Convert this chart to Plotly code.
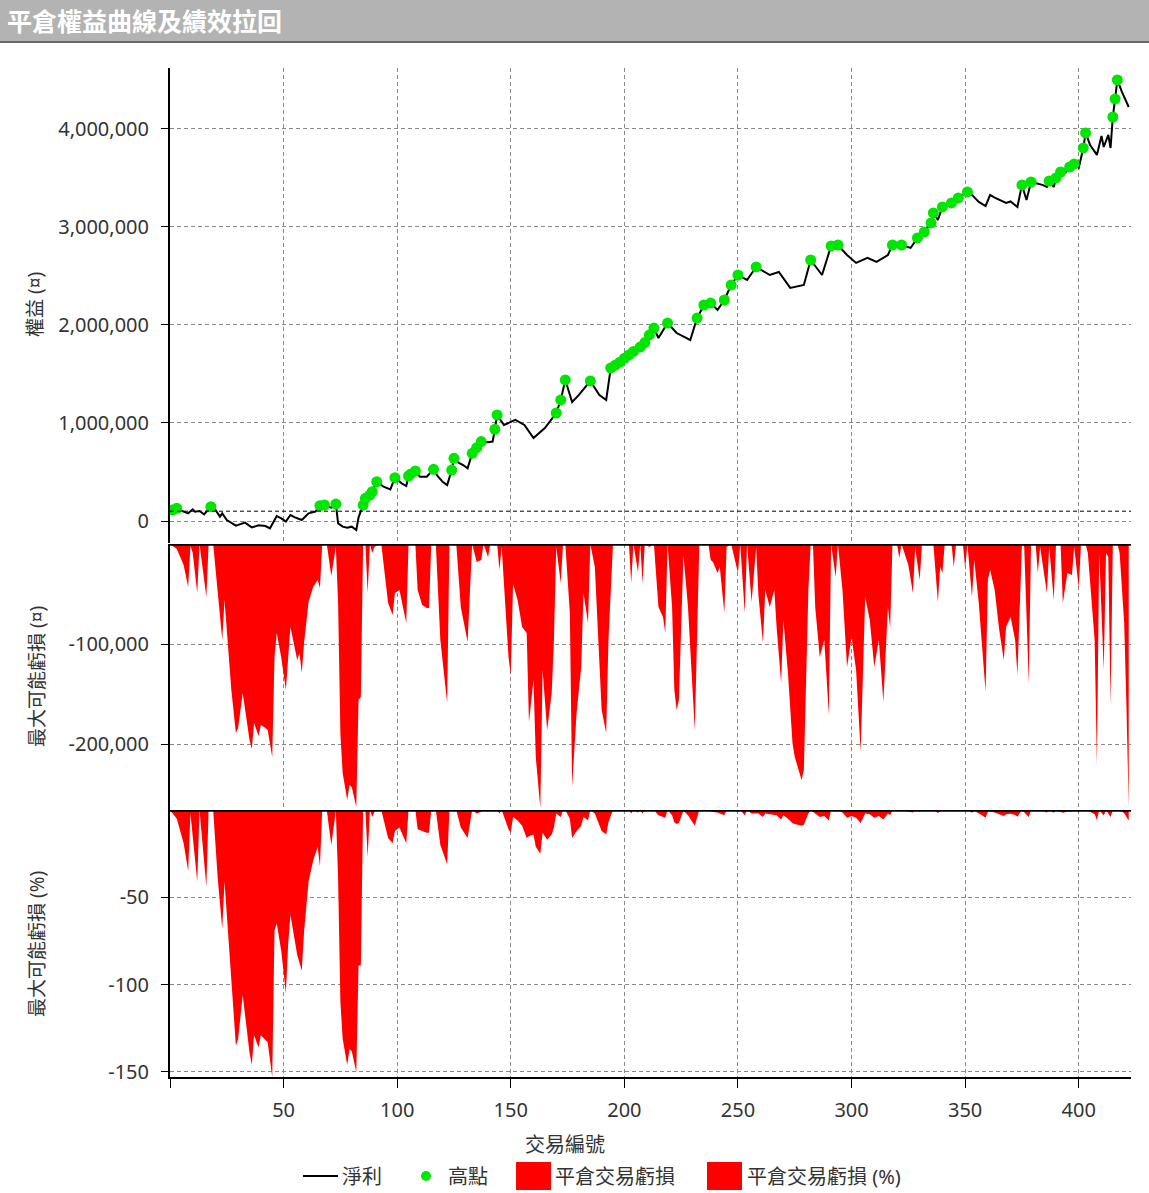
"""
平倉權益曲線及績效拉回 - equity curve with drawdown panels
"""
import plotly.graph_objects as go
from plotly.subplots import make_subplots

# ---- data ----
# equity curve: trade number -> net profit
EQ_NO = [1, 3, 6, 8, 10, 11, 13, 15, 18, 20, 22, 23, 25, 29, 33, 36, 39, 42, 44, 47,
         49, 51, 53, 55, 58, 61, 64, 66, 68, 71, 73, 74, 76, 78, 80, 82, 83, 85, 86, 88,
         89, 91, 94, 97, 99, 102, 104, 105, 106, 108, 110, 113, 116, 118, 120, 122, 124, 125, 127, 129,
         131, 133, 135, 137, 140, 142, 143, 144, 147, 152, 156, 160, 165, 170, 172, 174, 177, 180, 185, 189,
         192, 194, 196, 198, 200, 202, 204, 207, 209, 211, 213, 215, 219, 223, 229, 232, 235, 238, 241, 244,
         247, 250, 254, 258, 264, 268, 273, 279, 282, 287, 291, 294, 298, 302, 307, 311, 316, 318, 322, 326,
         329, 332, 335, 336, 338, 340, 344, 347, 351, 353, 356, 359, 361, 363, 365, 368, 370, 373, 375, 377,
         379, 381, 384, 386, 387, 389, 390, 392, 394, 396, 398, 400, 402, 403, 405, 408, 410, 411, 413, 414,
         415, 416, 417, 419, 422]
EQ_VAL = [112000, 129000, 95000, 78000, 119000, 95000, 102000, 68000, 146000, 112000,
          44000, 78000, 10000, -48000, -17000, -65000, -44000, -51000, -75000, 51000,
          27000, -7000, 61000, 37000, 10000, 78000, 95000, 156000, 163000, 136000,
          173000, -24000, -58000, -68000, -58000, -92000, 37000, 163000, 231000, 265000,
          299000, 401000, 350000, 323000, 442000, 384000, 357000, 459000, 480000, 510000,
          452000, 452000, 527000, 452000, 401000, 367000, 520000, 639000, 595000, 571000,
          537000, 690000, 748000, 810000, 803000, 810000, 935000, 1082000, 980000, 1031000,
          980000, 847000, 949000, 1102000, 1235000, 1439000, 1214000, 1286000, 1429000, 1286000,
          1235000, 1561000, 1590000, 1620000, 1660000, 1694000, 1730000, 1776000, 1820000, 1898000,
          1969000, 1867000, 2020000, 1918000, 1847000, 2071000, 2204000, 2224000, 2153000, 2255000,
          2408000, 2510000, 2459000, 2592000, 2510000, 2541000, 2378000, 2408000, 2663000, 2510000,
          2806000, 2816000, 2714000, 2633000, 2684000, 2643000, 2714000, 2816000, 2816000, 2786000,
          2888000, 2949000, 3041000, 3143000, 3071000, 3204000, 3245000, 3296000, 3357000, 3327000,
          3255000, 3214000, 3327000, 3300000, 3276000, 3245000, 3260000, 3204000, 3429000, 3276000,
          3459000, 3449000, 3430000, 3408000, 3469000, 3408000, 3500000, 3561000, 3551000, 3612000,
          3643000, 3602000, 3806000, 3959000, 3837000, 3735000, 3929000, 3816000, 3939000, 3806000,
          4122000, 4306000, 4500000, 4378000, 4224000]

# new equity highs (green dots)
HIGH_NO = [1, 3, 18, 66, 68, 73, 85, 86, 88, 89, 91, 99, 105, 106, 108, 116, 124, 125, 133, 135,
           137, 143, 144, 170, 172, 174, 185, 194, 196, 198, 200, 202, 204, 207, 209, 211, 213, 219, 232, 235,
           238, 244, 247, 250, 258, 282, 291, 294, 318, 322, 329, 332, 335, 336, 340, 344, 347, 351, 375, 379,
           387, 390, 392, 396, 398, 402, 403, 415, 416, 417]
HIGH_VAL = [112000, 129000, 146000, 156000, 163000, 173000, 163000, 231000, 265000, 299000,
            401000, 442000, 459000, 480000, 510000, 527000, 520000, 639000, 690000, 748000,
            810000, 935000, 1082000, 1102000, 1235000, 1439000, 1429000, 1561000, 1590000, 1620000,
            1660000, 1694000, 1730000, 1776000, 1820000, 1898000, 1969000, 2020000, 2071000, 2204000,
            2224000, 2255000, 2408000, 2510000, 2592000, 2663000, 2806000, 2816000, 2816000, 2816000,
            2888000, 2949000, 3041000, 3143000, 3204000, 3245000, 3296000, 3357000, 3429000, 3459000,
            3469000, 3500000, 3561000, 3612000, 3643000, 3806000, 3959000, 4122000, 4306000, 4500000]

START_CAPITAL = 100000

# max possible loss per closed trade (currency)
DD_NO = [0, 3, 6, 8, 9, 10, 12, 13, 16, 17, 19, 21, 23, 24, 27, 29, 30, 32, 35, 36,
         37, 39, 40, 42, 43, 45, 46, 47, 49, 51, 52, 53, 56, 57, 58, 59, 61, 63, 65, 66,
         67, 69, 71, 73, 74, 75, 76, 78, 79, 80, 82, 83, 84, 85, 86, 87, 88, 89, 90, 92,
         93, 96, 98, 99, 101, 104, 105, 108, 109, 111, 113, 114, 115, 117, 119, 122, 123, 126, 128, 131,
         133, 135, 137, 138, 140, 141, 144, 145, 146, 149, 150, 151, 153, 155, 157, 158, 160, 161, 163, 164,
         166, 168, 169, 170, 172, 173, 174, 176, 177, 179, 181, 182, 184, 185, 187, 190, 192, 193, 195, 202,
         203, 204, 206, 207, 208, 209, 211, 213, 215, 217, 218, 219, 221, 222, 223, 224, 226, 228, 231, 232,
         233, 237, 238, 239, 241, 242, 244, 245, 247, 250, 251, 253, 254, 256, 258, 259, 261, 262, 264, 266,
         267, 269, 270, 272, 274, 275, 278, 279, 280, 281, 282, 283, 284, 286, 288, 290, 291, 293, 294, 296,
         298, 300, 302, 304, 306, 308, 310, 312, 314, 316, 317, 318, 320, 321, 322, 325, 327, 328, 330, 331,
         336, 338, 339, 340, 341, 344, 345, 346, 349, 350, 351, 353, 354, 356, 357, 359, 360, 361, 363, 365,
         367, 368, 370, 372, 373, 375, 376, 378, 379, 381, 382, 383, 386, 387, 389, 390, 392, 393, 395, 397,
         398, 400, 401, 403, 404, 407, 408, 409, 411, 412, 413, 414, 415, 417, 418, 420, 421, 422]
DD_VAL = [0, -5000, -21000, -43000, -2000, -9000, -49000, 0, -53000, 0,
          0, -46000, -96000, -56000, -146000, -189000, -184000, -149000, -196000, -205000,
          -179000, -192000, -181000, -184000, -186000, -213000, -113000, -89000, -114000, -146000,
          -113000, -83000, -116000, -109000, -129000, -99000, -58000, -43000, -36000, -44000,
          0, 0, -32000, -3000, -60000, -190000, -229000, -256000, -241000, -243000,
          -263000, -156000, -153000, 0, 0, -49000, 0, -9000, -3000, 0,
          0, -59000, -71000, -49000, -46000, -79000, 0, 0, -46000, -61000,
          -64000, -64000, 0, 0, -96000, -159000, 0, 0, -63000, -98000,
          0, -18000, -16000, 0, -13000, 0, 0, -26000, -3000, -113000,
          -131000, -40000, -56000, -83000, -89000, -178000, -136000, -213000, -264000, -126000,
          -186000, -149000, -96000, -3000, -39000, 0, 0, -69000, -243000, -168000,
          -123000, -49000, -79000, 0, -23000, -166000, -189000, -96000, 0, 0,
          -39000, 0, -28000, 0, -39000, 0, -3000, 0, -63000, -73000,
          -89000, 0, -63000, -146000, -166000, -156000, -11000, -63000, -186000, -96000,
          0, 0, -16000, -18000, -29000, -23000, -69000, -3000, 0, -29000,
          0, -69000, 0, -58000, -3000, -51000, -99000, -46000, -63000, -46000,
          -83000, -139000, -76000, -129000, -199000, -213000, -236000, -226000, -129000, -46000,
          0, 0, -63000, -113000, -96000, -171000, 0, -33000, 0, -46000,
          -123000, -93000, -126000, -208000, -53000, -76000, -123000, -96000, -158000, -63000,
          -84000, 0, 0, -14000, 0, -21000, -49000, -4000, -36000, 0,
          0, -58000, -23000, -29000, 0, 0, -23000, 0, 0, -24000,
          0, -53000, -16000, -59000, -89000, -148000, -36000, -26000, -46000, -86000,
          -116000, -83000, -73000, -96000, -131000, 0, -3000, -139000, 0, 0,
          -29000, -3000, -49000, -3000, -56000, 0, 0, -59000, -29000, -31000,
          -3000, -44000, 0, 0, -9000, -96000, -221000, -9000, -126000, -9000,
          -13000, -161000, 0, 0, -9000, -79000, -163000, -264000]

# max possible loss per closed trade (%)
PCT_NO = [0, 3, 6, 8, 9, 12, 13, 16, 17, 19, 21, 23, 24, 27, 29, 30, 32, 35, 36, 37,
          39, 40, 42, 43, 45, 46, 47, 49, 51, 52, 53, 56, 58, 59, 61, 63, 65, 66, 67, 69,
          71, 73, 74, 75, 76, 78, 79, 80, 82, 83, 84, 85, 86, 87, 88, 89, 90, 92, 93, 96,
          98, 99, 101, 104, 105, 108, 109, 111, 113, 114, 115, 117, 119, 122, 123, 126, 128, 131, 133, 135,
          137, 138, 140, 141, 144, 145, 146, 149, 150, 151, 153, 155, 157, 158, 160, 161, 163, 164, 166, 168,
          169, 170, 172, 173, 174, 176, 177, 179, 181, 182, 184, 185, 187, 190, 192, 193, 195, 202, 203, 204,
          206, 207, 208, 209, 213, 215, 218, 219, 221, 222, 223, 224, 226, 228, 231, 232, 233, 237, 238, 241,
          244, 245, 247, 250, 251, 253, 254, 256, 259, 261, 262, 264, 267, 269, 270, 272, 274, 275, 278, 279,
          280, 281, 282, 284, 286, 288, 290, 291, 293, 294, 296, 298, 300, 302, 304, 306, 308, 310, 312, 314,
          316, 317, 318, 320, 321, 322, 325, 327, 328, 330, 331, 336, 338, 339, 341, 345, 346, 350, 351, 353,
          354, 356, 357, 359, 360, 361, 363, 365, 367, 368, 370, 372, 373, 375, 378, 379, 382, 383, 386, 387,
          389, 390, 393, 395, 397, 398, 400, 401, 404, 407, 408, 409, 411, 412, 414, 415, 418, 420, 421, 422]
PCT_VAL = [0, -5, -19, -35, -2, -41, 0, -44, 0, 0,
           -39, -68, -41, -100, -135, -131, -106, -139, -146, -129,
           -136, -129, -132, -133, -153, -69, -65, -81, -105, -77,
           -60, -83, -92, -70, -41, -29, -21, -32, 0, 0,
           -20, -0.5, -40, -110, -131, -146, -137, -138, -150, -89,
           -89, 0, 0, -27, 0, -4, -1, 0, 0, -16,
           -19, -12, -10, -19, 0, 0, -11, -12, -13, -13,
           0, 0, -20, -31, 0, 0, -10, -16, 0, -2,
           -1, 0, -1, 0, 0, -2, 0, -11, -13, -4,
           -6, -9, -16, -15, -14, -21, -25, -13, -17, -14,
           -10, -2, -4, 0, 0, -5, -16, -12, -9, -4,
           -6, 0, -2, -12, -14, -7, 0, 0, -2, 0,
           -1.5, 0, -2, 0, 0, -3, -4.5, 0, -3, -7,
           -8, -7.5, -0.5, -3, -9, -4.5, 0, 0, -1, -1.5,
           -3, -0.2, 0, -1, 0, -3, 0, -2, -2, -4,
           -2, -2.5, -3, -5.5, -3, -5, -7.5, -8, -9, -8.5,
           -5, -2, 0, -2, -4, -3.5, -6, 0, -1, 0,
           -1.5, -4.5, -3.5, -4.5, -7.5, -2, -2.5, -4.5, -3.5, -5.5,
           -2, -3, 0, 0, -0.5, 0, -0.7, -1.5, 0, -1,
           0, 0, -1.7, -0.7, 0, -0.7, 0, -0.7, 0, -1.6,
           -0.5, -1.7, -2.7, -4.5, -1.1, -0.8, -1.4, -2.5, -3.4, -2.5,
           -2.2, -2.8, -3.8, 0, -4, 0, -0.8, 0, -1.4, 0,
           -1.6, 0, -1.6, -0.8, -0.9, 0, -1.2, 0, -0.2, -2.5,
           -5.7, -0.2, -3.2, -0.2, -4, 0, -0.2, -1.8, -3.7, -6]

X_TICKS = [0, 50, 100, 150, 200, 250, 300, 350, 400]
EQ_TICKS = [0, 1000000, 2000000, 3000000, 4000000]
DD_TICKS = [-100000, -200000]
PCT_TICKS = [-50, -100, -150]

# ---- layout constants (pixels) ----
W, H = 1149, 1193
PL, PR, PT, PB = 170, 1131, 68, 1077
FONT = 'Noto Sans, Noto Sans CJK TC, sans-serif'
TXT = '#333333'
GRID = '#8a8a8a'
RED = '#ff0000'
GREEN = '#00e600'


def px(x):
    return (x - PL) / (PR - PL)


def py(y):
    return (PB - y) / (PB - PT)


fig = make_subplots(rows=3, cols=1, shared_xaxes=True, vertical_spacing=0,
                    row_heights=[475, 266, 266])

fig.add_trace(go.Scatter(
    x=DD_NO, y=DD_VAL, mode='lines', fill='tozeroy',
    line=dict(width=0, color=RED), fillcolor=RED, name='平倉交易虧損',
    showlegend=False), row=2, col=1)

fig.add_trace(go.Scatter(
    x=PCT_NO, y=PCT_VAL, mode='lines', fill='tozeroy',
    line=dict(width=0, color=RED), fillcolor=RED, name='平倉交易虧損 (%)',
    showlegend=False), row=3, col=1)

fig.add_trace(go.Scatter(
    x=EQ_NO, y=EQ_VAL, mode='lines', line=dict(color='black', width=2),
    name='淨利', showlegend=False), row=1, col=1)

fig.add_trace(go.Scatter(
    x=HIGH_NO, y=HIGH_VAL, mode='markers',
    marker=dict(color=GREEN, size=11, line=dict(width=0)),
    name='高點', showlegend=False), row=1, col=1)

axis_common = dict(
    showline=True, linecolor='black', linewidth=2,
    showgrid=True, gridcolor=GRID, gridwidth=1, griddash='4px,3px',
    zeroline=False, ticks='outside', ticklen=7, tickcolor='black',
    tickfont=dict(family=FONT, size=20, color=TXT),
)

for r in (1, 2, 3):
    fig.update_xaxes(axis_common, range=[0, 423], tickvals=X_TICKS,
                     ticktext=[''] + [str(v) for v in X_TICKS[1:]],
                     row=r, col=1)
fig.update_xaxes(showticklabels=False, ticks='', showline=False, row=1, col=1)
fig.update_xaxes(showticklabels=False, ticks='', showline=False, row=2, col=1)
fig.update_xaxes(ticklen=9, ticklabelstandoff=5, row=3, col=1)

fig.update_yaxes(axis_common, range=[-224500, 4622000], tickvals=EQ_TICKS,
                 ticktext=[f'{v:,}' for v in EQ_TICKS], ticklabelstandoff=8,
                 domain=[py(543), 1], row=1, col=1)
fig.update_yaxes(axis_common, range=[-266000, 0], tickvals=DD_TICKS,
                 ticktext=[f'{v:,}' for v in DD_TICKS], ticklabelstandoff=8,
                 domain=[py(810), py(544)], row=2, col=1)
fig.update_yaxes(axis_common, range=[-152.9, 0], tickvals=PCT_TICKS,
                 ticktext=[str(v) for v in PCT_TICKS], ticklabelstandoff=8,
                 domain=[0, py(810)], row=3, col=1)

shapes = [
    # title bar
    dict(type='rect', xref='paper', yref='paper', x0=px(0), x1=px(W), y0=py(42), y1=py(0),
         fillcolor='#b3b3b3', line=dict(width=0), layer='below'),
    dict(type='line', xref='paper', yref='paper', x0=px(0), x1=px(W), y0=py(42), y1=py(42),
         line=dict(color='#6a6a6a', width=2)),
    # start capital reference
    dict(type='line', xref='x domain', yref='y', x0=0, x1=1, y0=START_CAPITAL, y1=START_CAPITAL,
         line=dict(color='black', width=1, dash='4px,3px')),
    # zero lines of the drawdown panels
    dict(type='line', xref='x2 domain', yref='y2', x0=0, x1=1, y0=0, y1=0,
         line=dict(color='black', width=3.5)),
    dict(type='line', xref='x3 domain', yref='y3', x0=0, x1=1, y0=0, y1=0,
         line=dict(color='black', width=3.5)),
    # legend glyphs
    dict(type='line', xref='paper', yref='paper', x0=px(303), x1=px(338), y0=py(1176), y1=py(1176),
         line=dict(color='black', width=2)),
    dict(type='circle', xref='paper', yref='paper', x0=px(421), x1=px(431), y0=py(1181), y1=py(1171),
         fillcolor=GREEN, line=dict(width=0)),
    dict(type='rect', xref='paper', yref='paper', x0=px(516), x1=px(551), y0=py(1190), y1=py(1162),
         fillcolor=RED, line=dict(width=0)),
    dict(type='rect', xref='paper', yref='paper', x0=px(707), x1=px(742), y0=py(1190), y1=py(1162),
         fillcolor=RED, line=dict(width=0)),
]

annotations = [
    dict(text='平倉權益曲線及績效拉回', xref='paper', yref='paper', x=px(5), y=py(21),
         xanchor='left', yanchor='middle', showarrow=False,
         font=dict(family=FONT, size=25, color='white', weight='bold')),
    dict(text='權益 (¤)', xref='paper', yref='paper', x=px(35), y=py(305), textangle=-90,
         xanchor='center', yanchor='middle', showarrow=False,
         font=dict(family=FONT, size=19, color=TXT)),
    dict(text='最大可能虧損 (¤)', xref='paper', yref='paper', x=px(37), y=py(677), textangle=-90,
         xanchor='center', yanchor='middle', showarrow=False,
         font=dict(family=FONT, size=19, color=TXT)),
    dict(text='最大可能虧損 (%)', xref='paper', yref='paper', x=px(37), y=py(944), textangle=-90,
         xanchor='center', yanchor='middle', showarrow=False,
         font=dict(family=FONT, size=19, color=TXT)),
    dict(text='交易編號', xref='paper', yref='paper', x=px(565), y=py(1144),
         xanchor='center', yanchor='middle', showarrow=False,
         font=dict(family=FONT, size=20, color=TXT)),
]
for x0, label in [(340, '淨利'), (446, '高點'), (553, '平倉交易虧損'), (745, '平倉交易虧損 (%)')]:
    annotations.append(dict(text=label, xref='paper', yref='paper', x=px(x0), y=py(1176),
                            xanchor='left', yanchor='middle', showarrow=False,
                            font=dict(family=FONT, size=20, color=TXT)))

fig.update_layout(
    width=W, height=H,
    margin=dict(l=PL, r=W - PR, t=PT, b=H - PB),
    paper_bgcolor='white', plot_bgcolor='white',
    showlegend=False,
    shapes=shapes, annotations=annotations,
    font=dict(family=FONT, color=TXT),
)

# the page body has a default 8px margin; drop it so the figure sits at the corner
fig.write_html("out.html", config={'displayModeBar': False},
               post_script="document.body.style.margin = '0';")
